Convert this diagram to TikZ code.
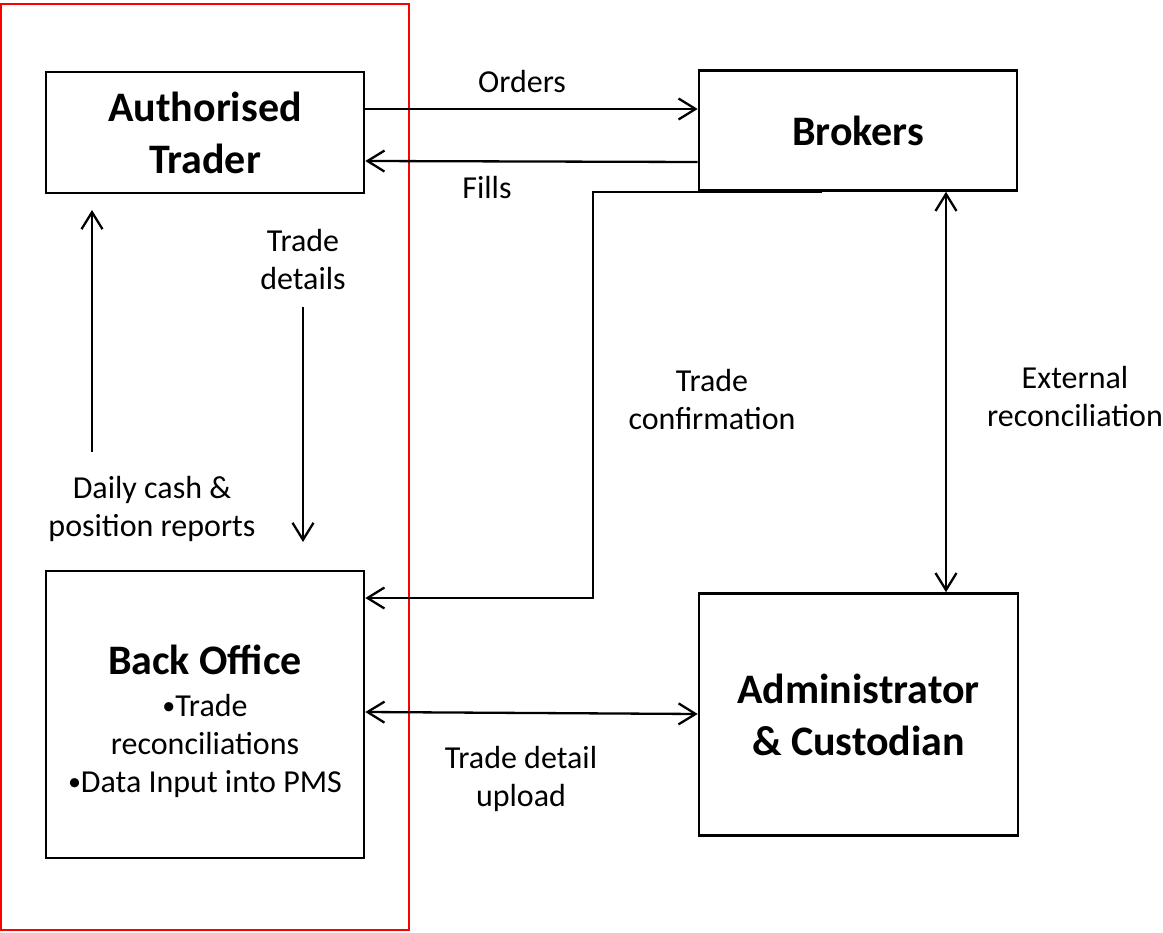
\documentclass[tikz,border=0pt]{standalone}
\usepackage{fontspec}
\setmainfont{Carlito}
\usetikzlibrary{arrows.meta,calc,positioning}
\newcommand{\bul}{\raisebox{2pt}{\fontsize{26}{26}\selectfont•}}
\begin{document}
\begin{tikzpicture}[x=1pt,y=-1pt,
	box/.style={draw, line width=2.6pt, align=center, inner sep=0pt, font=\bfseries\fontsize{42}{52}\selectfont},
	lbl/.style={align=center, inner sep=0pt, font=\fontsize{32}{38}\selectfont},
	flow/.style={line width=2.3pt, ->, >={Straight Barb[length=17pt,width=21pt]}},
	twoway/.style={flow, <->}]
	\useasboundingbox (0,0) rectangle (1163,933);
	\draw [red, line width=2.6pt] (1,4) rectangle (409,930);
	\node [box, minimum width=318pt, minimum height=121pt] (trader) at (205,132.5) {Authorised\\Trader};
	\node [box, minimum width=318pt, minimum height=120pt] (brokers) at (858,130.5) {Brokers};
	\node [box, minimum width=318pt, minimum height=287pt] (backoffice) at (205,714.5) {};
	\node [lbl] (bolines) at (205,721) {{\bfseries\fontsize{42}{42}\selectfont Back Office}\\[4pt]\bul Trade\\reconciliations\\\bul Data Input into PMS};
	\node [box, minimum width=319pt, minimum height=242pt] (admin) at (858.5,714.5) {Administrator\\\& Custodian};
	\coordinate (repstart) at (92,452);
	\coordinate (repend) at (92,210);
	\coordinate (detstart) at (303,307);
	\coordinate (detend) at (303,542);
	\coordinate (confbend) at (593,598);
	\draw [flow] (trader.east |- 0,109) -- (brokers.west |- 0,109);
	\draw [flow] (brokers.west |- 0,162) -- (trader.east |- 0,161);
	\draw [flow] (repstart) -- (repend);
	\draw [flow] (detstart) -- (detend);
	\draw [flow] ([xshift=-36pt]brokers.south) -| (confbend) -- (backoffice.east |- confbend);
	\draw [twoway] (backoffice.east |- 0,712) -- (admin.west |- 0,714);
	\draw [twoway] ([xshift=88pt]brokers.south) -- ([xshift=87.5pt]admin.north);
	\node [lbl] (orders) at (522,82) {Orders};
	\node [lbl] (fills) at (487,188) {Fills};
	\node [lbl] (tradedet) at (303,260) {Trade\\details};
	\node [lbl] (reports) at (152,509) {Daily cash \&\\position reports};
	\node [lbl] (tradeconf) at (712,400) {Trade\\confirmation};
	\node [lbl] (extrec) at (1075,397) {External\\reconciliation};
	\node [lbl] (upload) at (521,779) {Trade detail\\upload};
\end{tikzpicture}
\end{document}
